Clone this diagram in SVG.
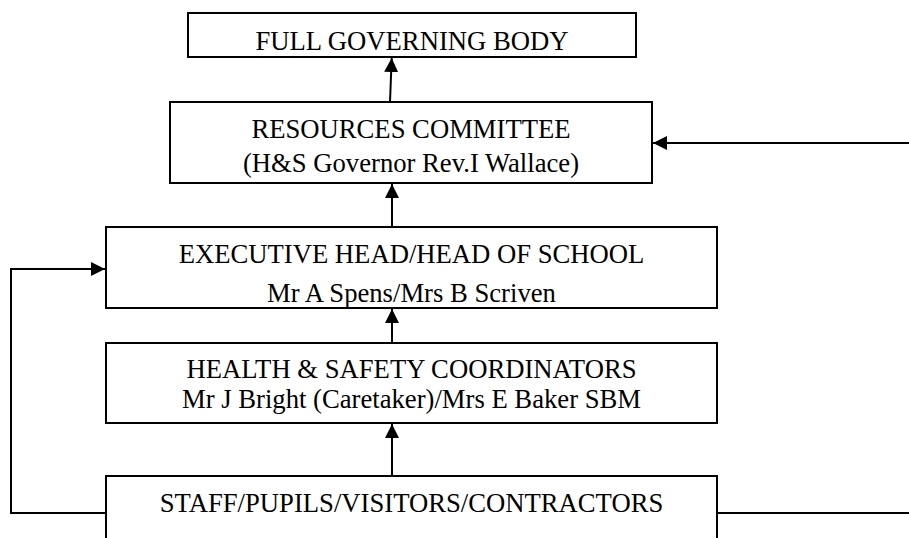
<svg xmlns="http://www.w3.org/2000/svg" width="909" height="538" viewBox="0 0 909 538">
<style>
.box{fill:#fff;stroke:#000;stroke-width:2}
.t{font-family:"Liberation Serif","Times New Roman",serif;font-size:26.67px;fill:#000;text-anchor:middle}
.c{fill:none;stroke:#000;stroke-width:2}
</style>
<defs>
<marker id="ah" viewBox="0 0 14 14" refX="14" refY="7" markerWidth="14" markerHeight="14" markerUnits="userSpaceOnUse" orient="auto">
<path d="M0,0 L14,7 L0,14 Z" fill="#000"/>
</marker>
</defs>
<rect width="909" height="538" fill="#fff"/>
<g id="connectors">
<path class="c" d="M390,102 L391.7,58" marker-end="url(#ah)"/>
<path class="c" d="M392,227 L392,184" marker-end="url(#ah)"/>
<path class="c" d="M392,343 L392,309" marker-end="url(#ah)"/>
<path class="c" d="M392,476 L392,424" marker-end="url(#ah)"/>
<path class="c" d="M909,143 L653,143" marker-end="url(#ah)"/>
<path class="c" d="M106,513 L11,513 L11,269 L105,269" marker-end="url(#ah)"/>
<path class="c" d="M717,513 L909,513"/>
</g>
<g id="full-governing-body">
<rect class="box" x="188" y="13" width="448" height="44"/>
<text class="t" x="412" y="50">FULL GOVERNING BODY</text>
</g>
<g id="resources-committee">
<rect class="box" x="170" y="102" width="482" height="81"/>
<text class="t" x="411" y="138">RESOURCES COMMITTEE</text>
<text class="t" x="411" y="172">(H&amp;S Governor Rev.I Wallace)</text>
</g>
<g id="executive-head">
<rect class="box" x="106" y="227" width="611" height="81"/>
<text class="t" x="411.5" y="263">EXECUTIVE HEAD/HEAD OF SCHOOL</text>
<text class="t" x="411.5" y="301.5">Mr A Spens/Mrs B Scriven</text>
</g>
<g id="hs-coordinators">
<rect class="box" x="106" y="343" width="611" height="80"/>
<text class="t" x="411.5" y="378">HEALTH &amp; SAFETY COORDINATORS</text>
<text class="t" x="411.5" y="408">Mr J Bright (Caretaker)/Mrs E Baker SBM</text>
</g>
<g id="staff">
<rect class="box" x="106" y="476" width="611" height="80"/>
<text class="t" x="411.5" y="512">STAFF/PUPILS/VISITORS/CONTRACTORS</text>
</g>
</svg>
